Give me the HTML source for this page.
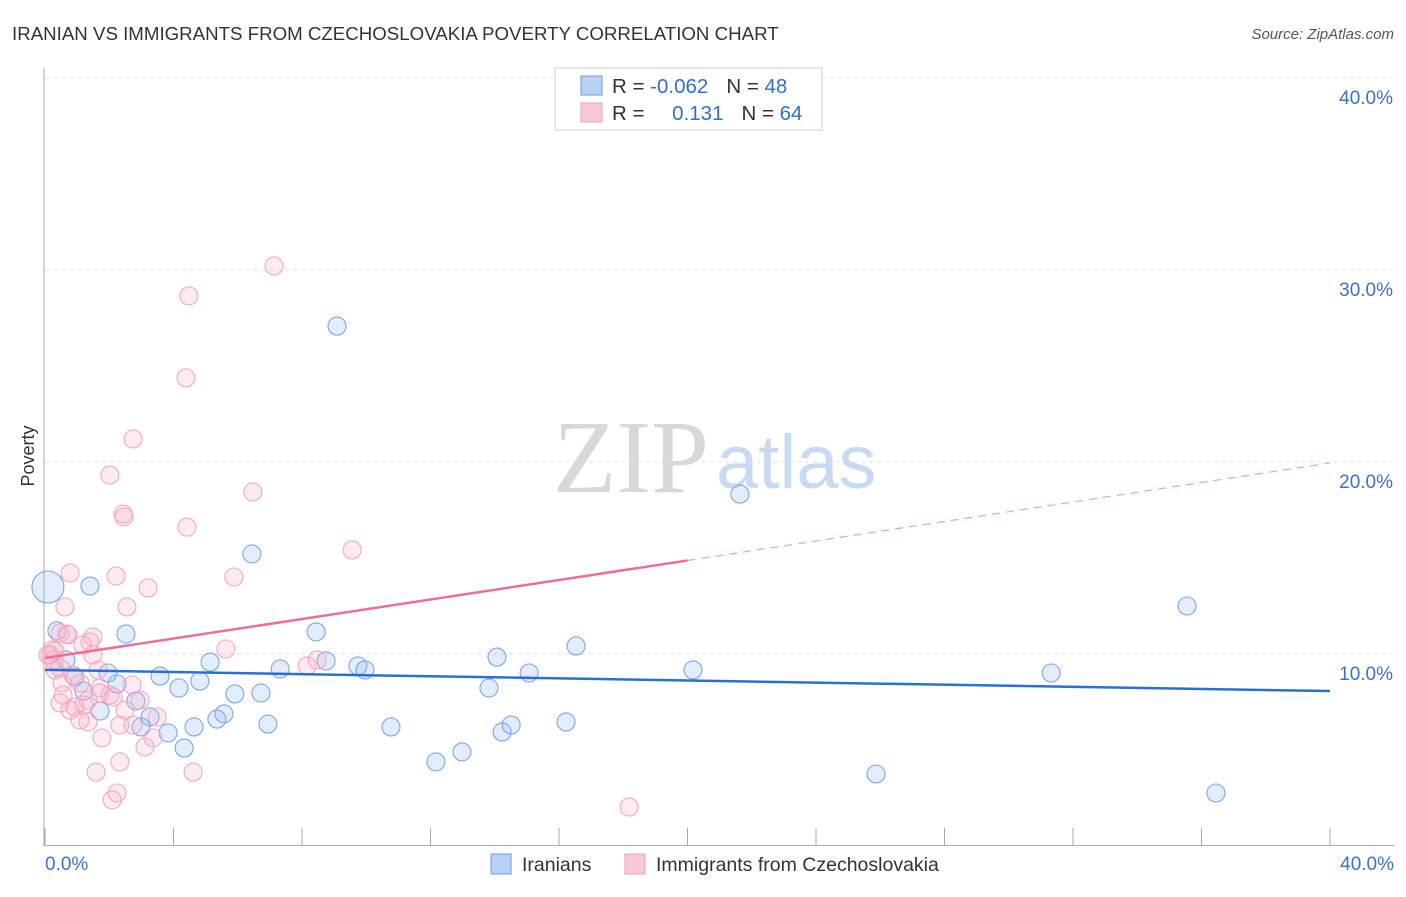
<!DOCTYPE html>
<html><head><meta charset="utf-8"><style>
body{margin:0;background:#fff;font-family:"Liberation Sans",sans-serif}
</style></head><body>
<svg id="chart" width="1406" height="892" xmlns="http://www.w3.org/2000/svg">
<text x="12" y="40" font-size="18.7" fill="#333">IRANIAN VS IMMIGRANTS FROM CZECHOSLOVAKIA POVERTY CORRELATION CHART</text>
<text x="1394" y="39" font-size="15" fill="#555" font-style="italic" text-anchor="end">Source: ZipAtlas.com</text>
<g>
<text x="553" y="492" font-family="Liberation Serif,serif" font-size="104" fill="#d8d8d8">ZIP</text>
<text x="716" y="488" font-size="76" fill="#c8daf2">atlas</text>
</g>
<g id="grid"></g>
<g id="axes"></g>
<g id="marks"></g>
<g>
<rect x="555" y="68" width="267" height="62" fill="#fff" stroke="#ccc"/>
<rect x="581" y="76" width="21" height="19" fill="#b8d2f5" stroke="#6a9be0"/>
<rect x="581" y="103" width="21" height="19" fill="#f9c8d6" stroke="#f0a0b8"/>
<text x="612" y="93" font-size="20.5" fill="#333">R = <tspan fill="#2f6fd0">-0.062</tspan><tspan dx="18">N = </tspan><tspan fill="#2f6fd0">48</tspan></text>
<text x="612" y="120" font-size="20.5" fill="#333">R = <tspan fill="#2f6fd0" dx="22">0.131</tspan><tspan dx="18">N = </tspan><tspan fill="#2f6fd0">64</tspan></text>
</g>
<g>
<rect x="491" y="854" width="20" height="20" fill="#b8d2f5" stroke="#6a9be0"/>
<text x="522" y="871" font-size="19.5" fill="#333">Iranians</text>
<rect x="625" y="854" width="20" height="20" fill="#f9c8d6" stroke="#f0a0b8"/>
<text x="656" y="871" font-size="19.5" fill="#333">Immigrants from Czechoslovakia</text>
</g>
<text transform="translate(34,456) rotate(-90)" font-size="18" fill="#333" text-anchor="middle">Poverty</text>
</svg>
<script>
const yTicks=[10,20,30,40];
const yTickLabels=["10.0%","20.0%","30.0%","40.0%"];
const xTicks=[0,4,8,12,16,20,24,28,32,36,40];
const blueX=[0.09,0.37,0.65,1.40,0.93,1.21,1.96,2.24,1.71,2.52,2.83,3.27,2.99,3.58,3.83,4.17,4.33,4.64,4.82,5.14,5.35,5.57,5.91,6.44,6.72,6.94,7.32,8.44,8.75,9.09,9.74,9.96,10.77,12.17,12.98,13.82,14.07,14.23,14.51,15.07,16.22,16.53,20.17,21.63,25.87,31.32,35.55,36.45];
const blueY=[13.49,11.2,9.69,13.54,8.80,8.07,9.01,8.44,7.03,11.04,7.55,6.72,6.20,8.85,5.89,8.23,5.10,6.20,8.59,9.58,6.61,6.88,7.92,15.21,7.97,6.35,9.22,11.15,9.64,27.08,9.38,9.17,6.20,4.38,4.90,8.23,9.84,5.94,6.30,9.01,6.46,10.42,9.17,18.33,3.75,9.01,12.50,2.76];
const pinkX=[0.78,2.21,3.21,0.62,2.55,0.47,0.72,1.49,1.40,1.18,0.22,0.09,5.63,8.47,8.16,0.31,0.87,1.65,1.09,0.53,0.56,0.47,0.93,1.34,1.71,2.02,2.12,2.71,2.49,1.09,1.34,2.33,2.74,3.49,3.11,3.36,1.77,2.33,1.59,2.24,2.09,4.61,9.56,5.88,7.13,4.48,4.39,2.74,2.02,6.47,2.43,2.46,4.42,18.18,0.68,0.28,0.31,0.47,1.71,1.21,0.78,2.96,0.16,1.49];
const pinkY=[14.22,14.06,13.44,12.45,12.45,11.09,10.99,10.89,10.63,10.47,10.21,9.95,10.26,9.69,9.38,9.17,8.91,9.17,8.49,8.49,7.86,7.45,7.24,7.60,7.97,7.86,7.76,8.39,7.08,6.56,6.46,6.30,6.30,6.72,5.16,5.63,5.63,4.38,3.85,2.76,2.40,3.85,15.42,14.01,30.21,28.65,24.38,21.20,19.32,18.44,17.29,17.14,16.61,2.03,11.04,9.69,10.16,9.27,8.23,7.34,7.08,7.60,9.95,9.95];
const blueTrend=[9.17,-0.0275];
const pinkTrend=[9.79,0.254];
const NS="http://www.w3.org/2000/svg";
const X=v=>45+v*32.125, Y=v=>846-v*19.2;
function mk(t,a,p){const e=document.createElementNS(NS,t);for(const k in a)e.setAttribute(k,a[k]);p.appendChild(e);return e;}
const grid=document.getElementById('grid'),axes=document.getElementById('axes'),marks=document.getElementById('marks');
yTicks.forEach((t,i)=>{
 const l=mk('line',{x1:45,x2:1394,y1:Y(t),y2:Y(t),stroke:'#ddd','stroke-dasharray':'4,4'},grid);
 
 
 const tx=mk('text',{x:1393,y:Y(t)+26,'font-size':19,fill:'#3b6fd4','text-anchor':'end'},axes);
 tx.textContent=yTickLabels[i];
 
 
});
let a=mk('line',{x1:44,x2:44,y1:68,y2:846,stroke:'#aaa'},axes);


a=mk('line',{x1:44,x2:1394,y1:845.5,y2:845.5,stroke:'#aaa'},axes);


xTicks.forEach(t=>{const l=mk('line',{x1:X(t),x2:X(t),y1:828,y2:846,stroke:'#aaa'},axes);
 
 });
let t0=mk('text',{x:45,y:870,'font-size':19,fill:'#3b6fd4'},axes);t0.textContent='0.0%';


let t1=mk('text',{x:1394,y:870,'font-size':19,fill:'#3b6fd4','text-anchor':'end'},axes);t1.textContent='40.0%';


blueX.forEach((x,i)=>{const c=mk('circle',{cx:X(x),cy:Y(blueY[i]),r:i===0?16:9,fill:'rgba(140,180,240,0.25)',stroke:'#7aa6e6','stroke-width':1.1},marks);
 
 });
pinkX.forEach((x,i)=>{const c=mk('circle',{cx:X(x),cy:Y(pinkY[i]),r:9,fill:'rgba(246,175,198,0.25)',stroke:'#f2a8bf','stroke-width':1.1},marks);
 
 });
let ln=mk('line',{x1:X(0),y1:Y(blueTrend[0]),x2:X(40),y2:Y(blueTrend[0]+40*blueTrend[1]),stroke:'#2a6fd6','stroke-width':2.5},marks);


ln=mk('line',{x1:X(0),y1:Y(pinkTrend[0]),x2:X(20),y2:Y(pinkTrend[0]+20*pinkTrend[1]),stroke:'#e8709a','stroke-width':2.5},marks);


ln=mk('line',{x1:X(20),y1:Y(pinkTrend[0]+20*pinkTrend[1]),x2:X(40),y2:Y(pinkTrend[0]+40*pinkTrend[1]),stroke:'#e8a0b8','stroke-width':1.2,'stroke-dasharray':'8,6'},marks);


</script>
</body></html>
